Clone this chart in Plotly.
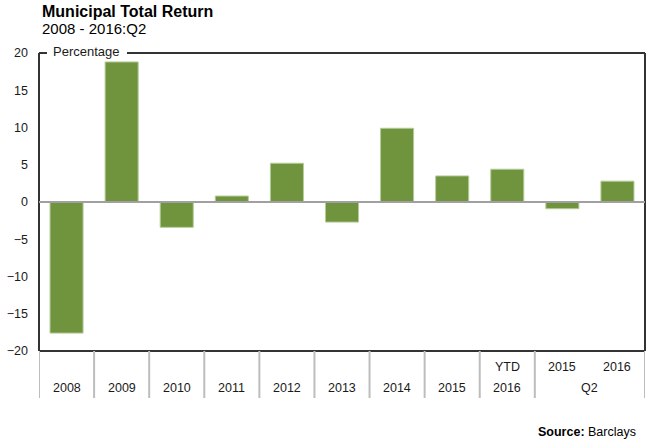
import plotly.graph_objects as go

categories = ["2008", "2009", "2010", "2011", "2012", "2013", "2014", "2015", "YTD 2016", "Q2 2015", "Q2 2016"]
values = [-17.6, 18.8, -3.4, 0.8, 5.2, -2.7, 9.9, 3.5, 4.4, -0.9, 2.8]
top_labels = ["", "", "", "", "", "", "", "", "YTD", "2015", "2016"]
bottom_labels = ["2008", "2009", "2010", "2011", "2012", "2013", "2014", "2015", "2016", "", ""]
y_ticks = [-20, -15, -10, -5, 0, 5, 10, 15, 20]

W, H = 650, 442
L, R, T, B = 39, 5, 53, 91
pw, ph = W - L - R, H - T - B

def px_x(x):
    return (x - L) / pw

def px_y(y):
    return (H - B - y) / ph

FONT = "Liberation Sans, Arial, sans-serif"
TXT = "#1a1a1a"

xs = list(range(len(categories)))
fig = go.Figure(go.Bar(
    x=xs, y=values, width=0.6,
    marker=dict(color="#70933D", line=dict(color="#b5cc9a", width=1)),
))

shapes = []
frame = dict(color="#333333", width=2)
shapes.append(dict(type="line", xref="paper", yref="paper", x0=0, x1=0, y0=0, y1=1, line=frame))
shapes.append(dict(type="line", xref="paper", yref="paper", x0=1, x1=1, y0=0, y1=1, line=frame))
shapes.append(dict(type="line", xref="paper", yref="paper", x0=0, x1=1, y0=0, y1=0, line=frame))
shapes.append(dict(type="line", xref="paper", yref="paper", x0=0, x1=px_x(47), y0=1, y1=1, line=frame))
shapes.append(dict(type="line", xref="paper", yref="paper", x0=px_x(127), x1=1, y0=1, y1=1, line=frame))
shapes.append(dict(type="line", xref="paper", yref="y", x0=0, x1=1, y0=0, y1=0,
                   line=dict(color="#a0a0a0", width=2), layer="above"))
sep_y1 = px_y(398)
for b in [-0.5, 0.5, 1.5, 2.5, 3.5, 4.5, 5.5, 6.5, 7.5, 8.5, 10.5]:
    shapes.append(dict(type="line", xref="x", yref="paper", x0=b, x1=b, y0=0, y1=sep_y1,
                       line=dict(color="#bdbdbd", width=2)))

lab_font = dict(size=12.5, color=TXT, family=FONT)
ann = []
for i in xs:
    if top_labels[i]:
        ann.append(dict(x=i, y=px_y(367), xref="x", yref="paper", text=top_labels[i],
                        xanchor="center", yanchor="middle", showarrow=False, font=lab_font))
    if bottom_labels[i]:
        ann.append(dict(x=i, y=px_y(388), xref="x", yref="paper", text=bottom_labels[i],
                        xanchor="center", yanchor="middle", showarrow=False, font=lab_font))
ann.append(dict(x=9.5, y=px_y(388), xref="x", yref="paper", text="Q2",
                xanchor="center", yanchor="middle", showarrow=False, font=lab_font))
ann.append(dict(x=px_x(51), y=px_y(52), xref="paper", yref="paper", text="Percentage",
                xanchor="left", yanchor="middle", showarrow=False,
                font=dict(size=13, color=TXT, family=FONT)))
ann.append(dict(x=px_x(40), y=px_y(11), xref="paper", yref="paper", text="<b>Municipal Total Return</b>",
                xanchor="left", yanchor="middle", showarrow=False,
                font=dict(size=16, color="#000000", family=FONT)))
ann.append(dict(x=px_x(40), y=px_y(29), xref="paper", yref="paper", text="2008 - 2016:Q2",
                xanchor="left", yanchor="middle", showarrow=False,
                font=dict(size=15, color="#000000", family=FONT)))
ann.append(dict(x=px_x(638), y=px_y(432), xref="paper", yref="paper", text="<b>Source:</b> Barclays",
                xanchor="right", yanchor="middle", showarrow=False,
                font=dict(size=12.5, color="#000000", family=FONT)))

fig.update_layout(
    width=W, height=H,
    margin=dict(l=L, r=R, t=T, b=B, pad=0),
    paper_bgcolor="white", plot_bgcolor="white",
    showlegend=False,
    shapes=shapes, annotations=ann,
    bargap=0.4,
    xaxis=dict(range=[-0.5, 10.5], showticklabels=False, showgrid=False, zeroline=False,
               showline=False, ticks="", fixedrange=True),
    yaxis=dict(range=[-20, 20], tickvals=y_ticks, showgrid=False, zeroline=False,
               showline=False, ticks="", ticklabelstandoff=10,
               tickfont=dict(size=12.5, color=TXT, family=FONT)),
)

fig.write_html("out.html", config={"displayModeBar": False},
               post_script="document.body.style.margin='0';document.body.style.overflow='hidden';")
